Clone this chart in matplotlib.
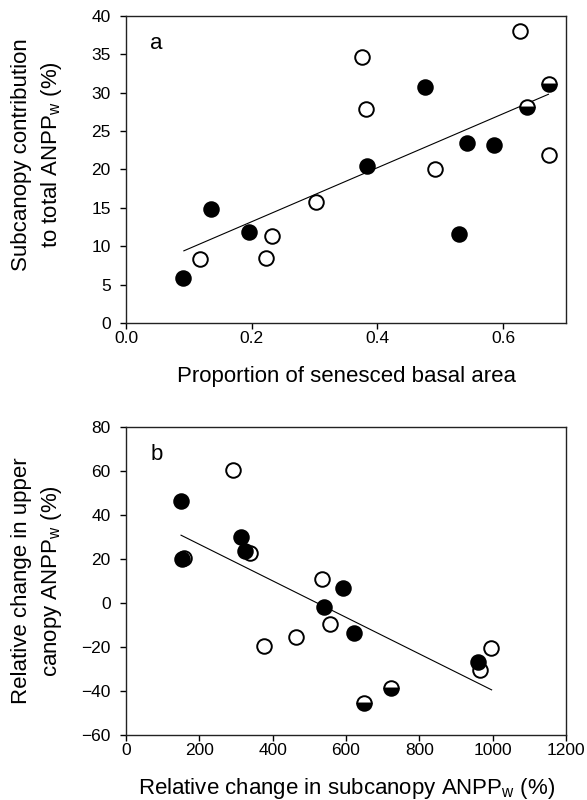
import matplotlib
matplotlib.use('Agg')
import matplotlib.pyplot as plt

plt.rcParams['font.family'] = ['Liberation Sans', 'DejaVu Sans']

# Panel a: proportion of senesced basal area vs subcanopy contribution
a_open_x = [0.118, 0.223, 0.232, 0.303, 0.376, 0.381, 0.491, 0.626, 0.673]
a_open_y = [8.3, 8.4, 11.3, 15.7, 34.7, 27.9, 20.0, 38.0, 21.9]
a_fill_x = [0.091, 0.135, 0.195, 0.384, 0.475, 0.530, 0.542, 0.585]
a_fill_y = [5.8, 14.9, 11.8, 20.4, 30.8, 11.6, 23.5, 23.2]
a_half_x = [0.638, 0.673]
a_half_y = [28.2, 31.2]
a_fit_x = [0.092, 0.672]
a_fit_y = [9.4, 29.8]

# Panel b: relative change in subcanopy vs upper canopy ANPPw
b_open_x = [291, 159, 338, 535, 555, 464, 375, 995, 966]
b_open_y = [60.3, 20.6, 22.6, 11.0, -9.7, -15.6, -19.5, -20.6, -30.5]
b_fill_x = [150, 313, 325, 153, 593, 541, 623, 961]
b_fill_y = [46.4, 30.1, 23.6, 19.8, 7.0, -1.8, -13.8, -27.0]
b_half_x = [649, 723]
b_half_y = [-45.3, -38.5]
b_fit_x = [150, 997]
b_fit_y = [30.8, -39.5]

fig = plt.figure(figsize=(5.87, 8.0), dpi=100)
ax1 = fig.add_axes([0.2147, 0.5963, 0.7496, 0.3837])
ax2 = fig.add_axes([0.2147, 0.0813, 0.7496, 0.3850])

ms = 10.5
mew = 1.4
ylab_font = dict(fontsize=16, linespacing=1.4)


def draw(ax, ox, oy, fx, fy, hx, hy, lx, ly):
    ax.plot(lx, ly, color='black', lw=0.8, zorder=1)
    ax.plot(ox, oy, 'o', ms=ms, mfc='white', mec='black', mew=mew, ls='none', zorder=2)
    ax.plot(fx, fy, 'o', ms=ms, mfc='black', mec='black', mew=mew, ls='none', zorder=3)
    ax.plot(hx, hy, 'o', ms=ms, fillstyle='bottom', mfc='black', mfcalt='white',
            mec='black', mew=mew, ls='none', zorder=3)
    for s in ax.spines.values():
        s.set_linewidth(1.0)
        s.set_color('#222222')
    ax.tick_params(direction='out', length=4.5, width=1.0, labelsize=12.5,
                   top=False, right=False)
    ax.tick_params(axis='x', pad=1.5)
    ax.tick_params(axis='y', pad=6.5)


draw(ax1, a_open_x, a_open_y, a_fill_x, a_fill_y, a_half_x, a_half_y, a_fit_x, a_fit_y)
ax1.set_xlim(0, 0.7)
ax1.set_ylim(0, 40)
ax1.set_xticks([0.0, 0.2, 0.4, 0.6])
ax1.set_xticklabels(['0.0', '0.2', '0.4', '0.6'])
ax1.set_yticks(range(0, 41, 5))
ax1.set_xlabel('Proportion of senesced basal area', fontsize=16, labelpad=14.5)
ax1.set_ylabel('Subcanopy contribution\nto total ANPP$_\\mathregular{w}$ (%)', **ylab_font)
ax1.yaxis.set_label_coords(-0.141, 0.55)
ax1.text(0.055, 0.91, 'a', transform=ax1.transAxes, fontsize=16, va='center', ha='left')

draw(ax2, b_open_x, b_open_y, b_fill_x, b_fill_y, b_half_x, b_half_y, b_fit_x, b_fit_y)
ax2.set_xlim(0, 1200)
ax2.set_ylim(-60, 80)
ax2.set_xticks(range(0, 1201, 200))
ax2.set_yticks(range(-60, 81, 20))
ax2.set_xlabel('Relative change in subcanopy ANPP$_\\mathregular{w}$ (%)', fontsize=16,
               labelpad=12.5)
ax2.set_ylabel('Relative change in upper\ncanopy ANPP$_\\mathregular{w}$ (%)', **ylab_font)
ax2.yaxis.set_label_coords(-0.141, 0.5)
ax2.text(0.055, 0.91, 'b', transform=ax2.transAxes, fontsize=16, va='center', ha='left')

fig.savefig('out.png', dpi=100)
